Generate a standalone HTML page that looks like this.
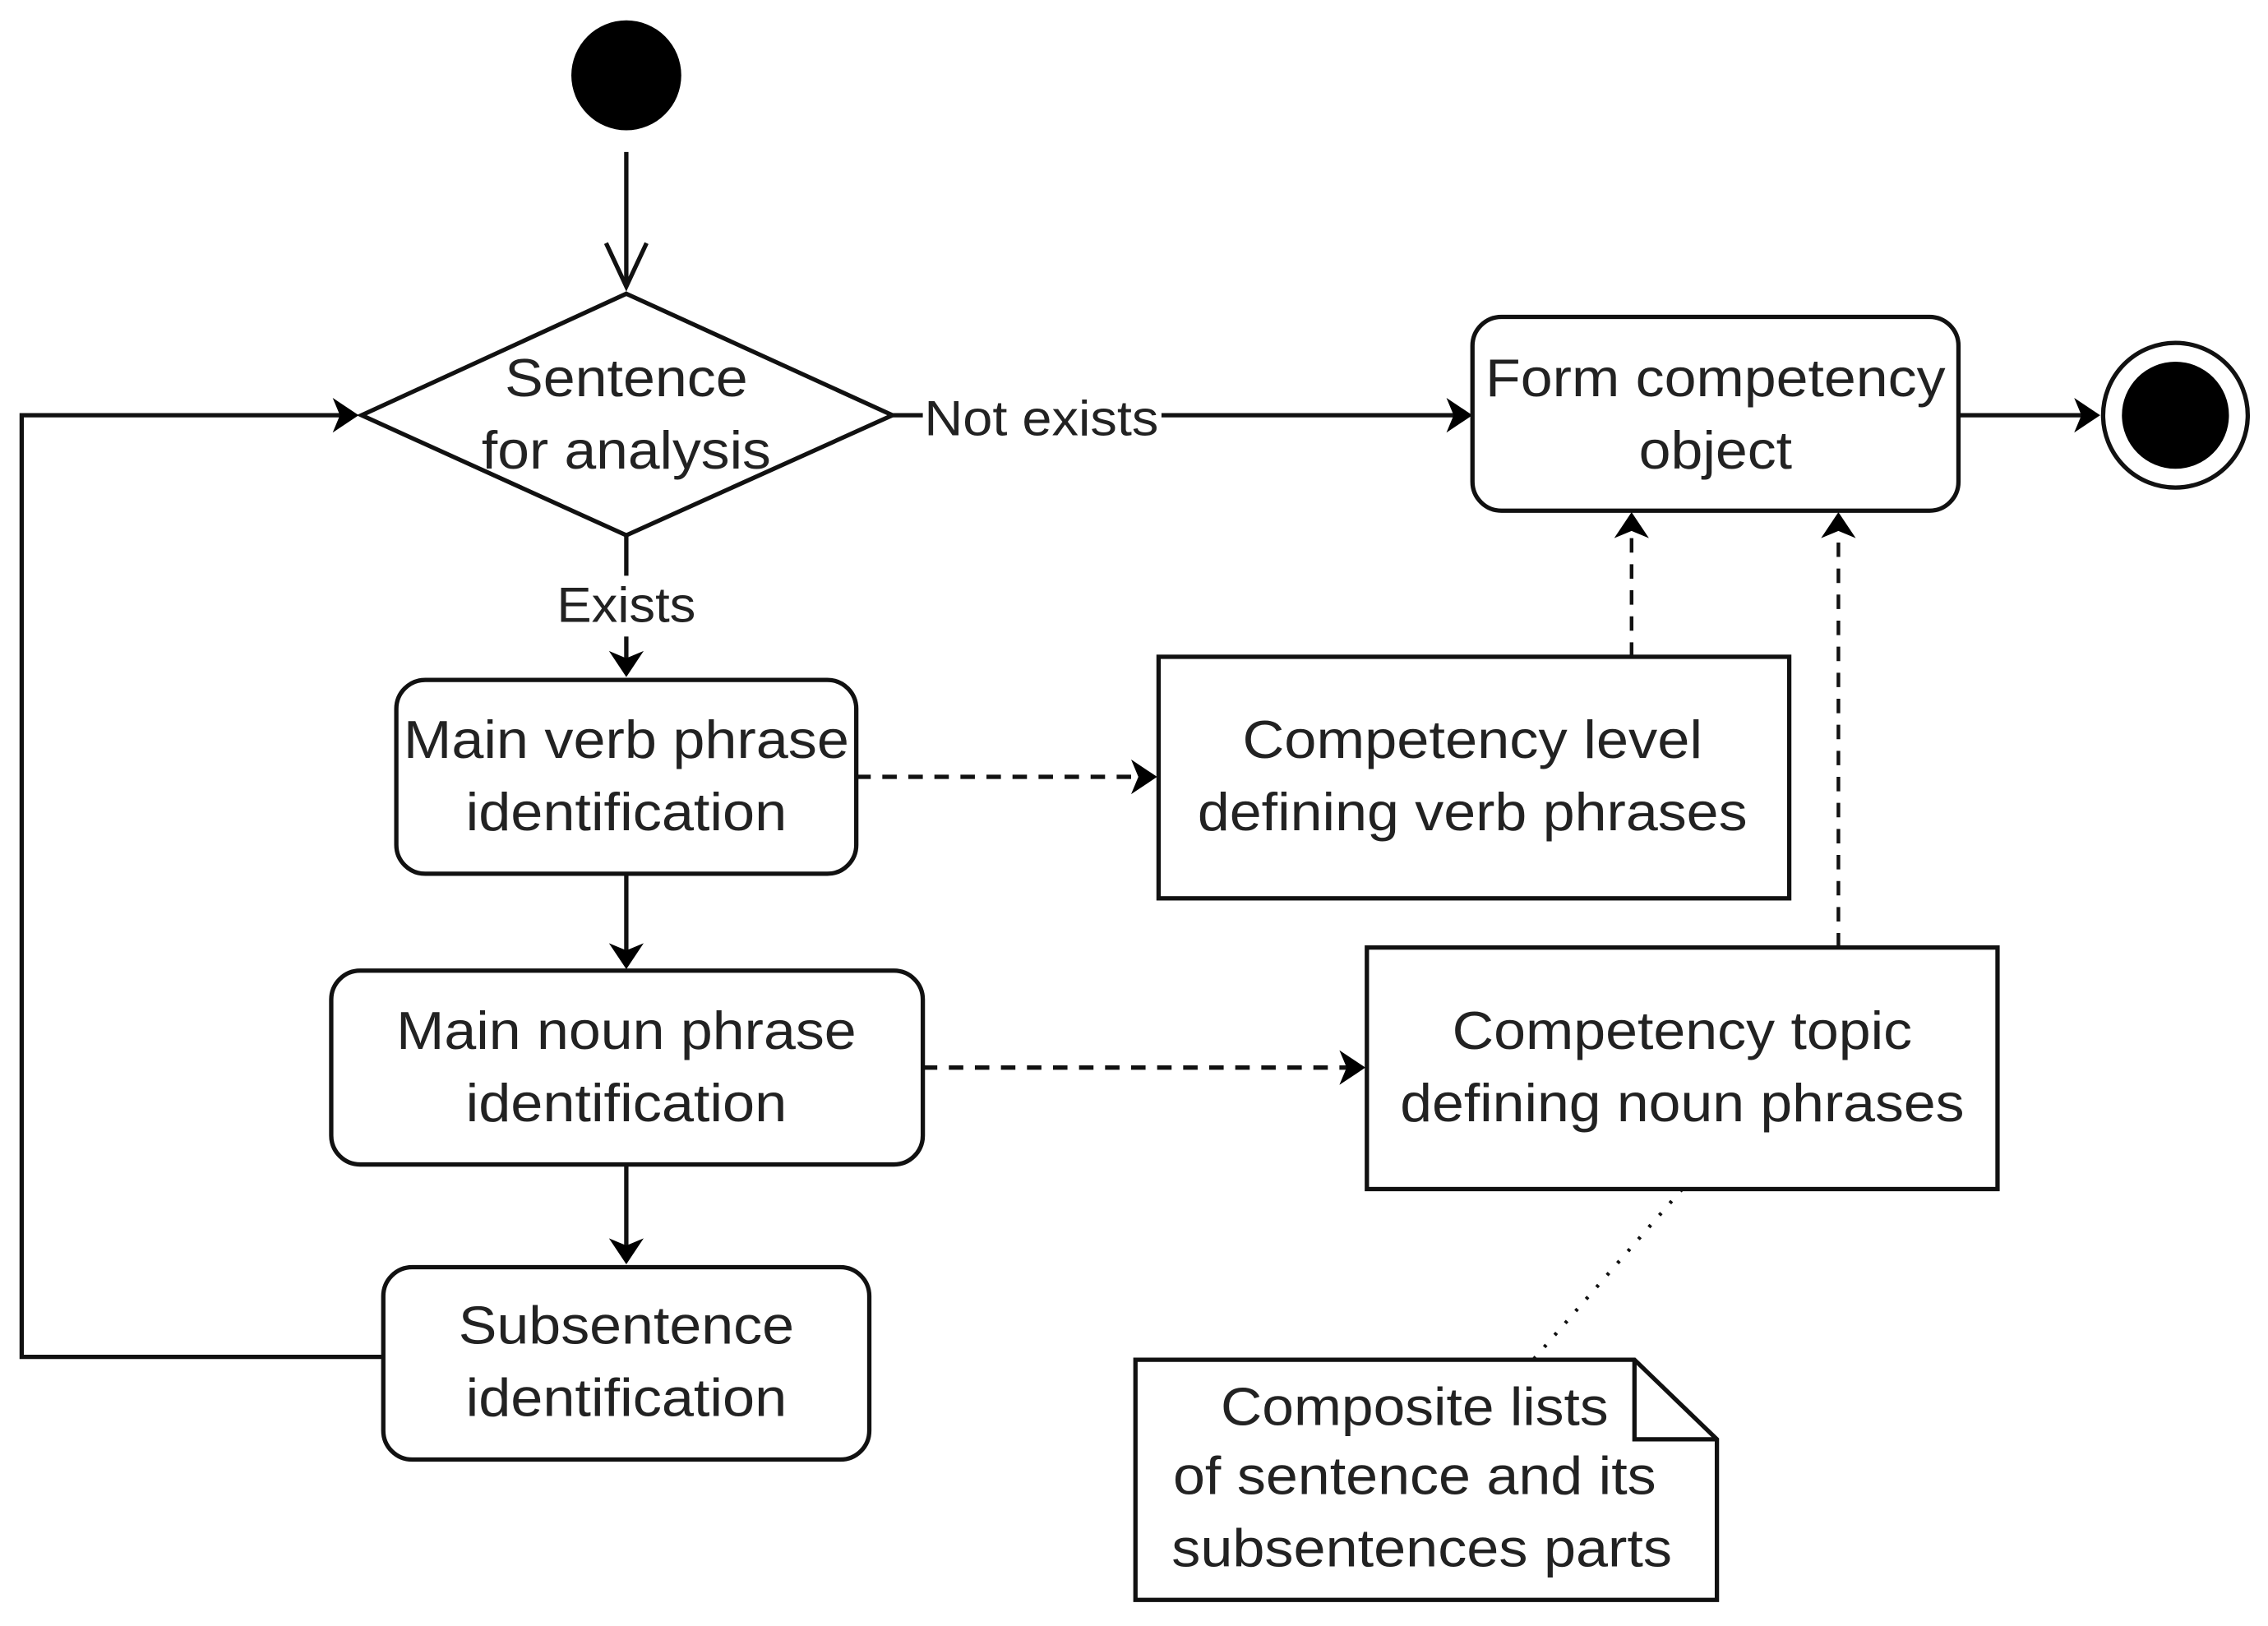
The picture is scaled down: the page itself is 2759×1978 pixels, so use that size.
<!DOCTYPE html>
<html><head><style>html,body{margin:0;padding:0;background:#fff}svg{display:block}</style></head>
<body>
<svg width="2759" height="1978" viewBox="0 0 1568 1124" xmlns="http://www.w3.org/2000/svg" font-family="Liberation Sans, Arial, sans-serif">
<defs>
<marker id="f" markerWidth="10" markerHeight="10" refX="9" refY="5" orient="auto" markerUnits="userSpaceOnUse" viewBox="0 0 10 10"><path d="M0,0 L10,5 L0,10 L3,5 Z" fill="#000"/></marker>
</defs>
<rect width="1568" height="1124" fill="#fff"/>
<g stroke="#111" stroke-width="3" fill="none">
<circle cx="433" cy="52" r="38" fill="#000" stroke="none"/>
<line x1="433" y1="105" x2="433" y2="198"/>
<polyline points="419,168 433,198 447,168"/>
<polygon points="250,287 433,203 617,287 433,370" fill="#fff"/>
<line x1="617" y1="287" x2="1010" y2="287"/>
<path d="M1000,275 L1018,287 L1000,299 L1005,287 Z" fill="#000" stroke="none"/>
<rect x="1018" y="219" width="336" height="134" rx="20" fill="#fff"/>
<line x1="1354" y1="287" x2="1445" y2="287"/>
<path d="M1434,275 L1452,287 L1434,299 L1439,287 Z" fill="#000" stroke="none"/>
<circle cx="1504" cy="287" r="50" fill="#fff"/>
<circle cx="1504" cy="287" r="37" fill="#000" stroke="none"/>
<polyline points="265,938 15,938 15,287 240,287"/>
<path d="M230,275 L248,287 L230,299 L235,287 Z" fill="#000" stroke="none"/>
<line x1="433" y1="370" x2="433" y2="398"/>
<line x1="433" y1="440" x2="433" y2="460"/>
<path d="M421,450 L433,468 L445,450 L433,455 Z" fill="#000" stroke="none"/>
<rect x="274" y="470" width="318" height="134" rx="20" fill="#fff"/>
<line x1="433" y1="604" x2="433" y2="662"/>
<path d="M421,652 L433,670 L445,652 L433,657 Z" fill="#000" stroke="none"/>
<rect x="229" y="671" width="409" height="134" rx="20" fill="#fff"/>
<line x1="433" y1="805" x2="433" y2="866"/>
<path d="M421,856 L433,874 L445,856 L433,861 Z" fill="#000" stroke="none"/>
<rect x="265" y="876" width="336" height="133" rx="20" fill="#fff"/>
<line x1="592" y1="537" x2="790" y2="537" stroke-dasharray="10,8"/>
<path d="M782,525 L800,537 L782,549 L787,537 Z" fill="#000" stroke="none"/>
<rect x="801" y="454" width="436" height="167" fill="#fff"/>
<line x1="638" y1="738" x2="934" y2="738" stroke-dasharray="10,8"/>
<path d="M926,726 L944,738 L926,750 L931,738 Z" fill="#000" stroke="none"/>
<rect x="945" y="655" width="436" height="167" fill="#fff"/>
<line x1="1128" y1="454" x2="1128" y2="362" stroke-dasharray="10,8" stroke-width="2.5"/>
<path d="M1116,372 L1128,354 L1140,372 L1128,367 Z" fill="#000" stroke="none"/>
<line x1="1271" y1="655" x2="1271" y2="362" stroke-dasharray="10,8" stroke-width="2.5"/>
<path d="M1259,372 L1271,354 L1283,372 L1271,367 Z" fill="#000" stroke="none"/>
<line x1="1163" y1="822" x2="1060" y2="940" stroke-dasharray="2,9" stroke-width="2.5"/>
<path d="M785,940 L1130,940 L1187,995 L1187,1106 L785,1106 Z" fill="#fff"/>
<polyline points="1130,940 1130,995 1187,995"/>
</g>
<g fill="#222" font-size="37" text-anchor="middle">
<text x="433" y="274" textLength="168" lengthAdjust="spacingAndGlyphs">Sentence</text>
<text x="433" y="324" textLength="200" lengthAdjust="spacingAndGlyphs">for analysis</text>
<rect x="638" y="268" width="165" height="40" fill="#fff"/>
<text x="720" y="301" font-size="34" textLength="162" lengthAdjust="spacingAndGlyphs">Not exists</text>
<text x="433" y="430" font-size="34" textLength="96" lengthAdjust="spacingAndGlyphs">Exists</text>
<text x="1186" y="274" textLength="318" lengthAdjust="spacingAndGlyphs">Form competency</text>
<text x="1186" y="324" textLength="106" lengthAdjust="spacingAndGlyphs">object</text>
<text x="433" y="524" textLength="308" lengthAdjust="spacingAndGlyphs">Main verb phrase</text>
<text x="433" y="574" textLength="222" lengthAdjust="spacingAndGlyphs">identification</text>
<text x="433" y="725" textLength="318" lengthAdjust="spacingAndGlyphs">Main noun phrase</text>
<text x="433" y="775" textLength="222" lengthAdjust="spacingAndGlyphs">identification</text>
<text x="433" y="929" textLength="232" lengthAdjust="spacingAndGlyphs">Subsentence</text>
<text x="433" y="979" textLength="222" lengthAdjust="spacingAndGlyphs">identification</text>
<text x="1018" y="524" textLength="318" lengthAdjust="spacingAndGlyphs">Competency level</text>
<text x="1018" y="574" textLength="380" lengthAdjust="spacingAndGlyphs">defining verb phrases</text>
<text x="1163" y="725" textLength="318" lengthAdjust="spacingAndGlyphs">Competency topic</text>
<text x="1163" y="775" textLength="390" lengthAdjust="spacingAndGlyphs">defining noun phrases</text>
<text x="978" y="985" textLength="268" lengthAdjust="spacingAndGlyphs">Composite lists</text>
<text x="978" y="1033" textLength="334" lengthAdjust="spacingAndGlyphs">of sentence and its</text>
<text x="983" y="1083" textLength="346" lengthAdjust="spacingAndGlyphs">subsentences parts</text>
</g>
</svg>
</body></html>
